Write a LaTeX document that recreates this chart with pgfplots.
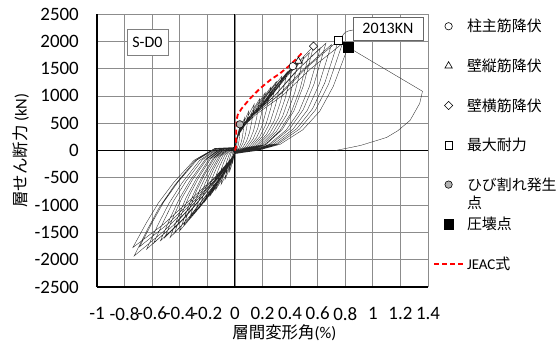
\documentclass[border=0pt]{standalone}
\usepackage{pgfplots}
\pgfplotsset{compat=1.18}
\usepackage{fontspec}
\setmainfont{Carlito}
\newfontfamily\cjk{Noto Sans CJK JP}
\newcommand{\lgs}{\rule[-3bp]{0pt}{14bp}}
\begin{document}
\begin{tikzpicture}
\useasboundingbox (-97bp,-60bp) rectangle (463bp,287bp);
\begin{axis}[
  at={(0,0)}, anchor=south west,
  scale only axis, width=331bp, height=273bp,
  xmin=-1, xmax=1.4, ymin=-2500, ymax=2500,
  axis lines*=left, axis line style={-, black, line width=1.3bp},
  xtick={-1,-0.8,-0.6,-0.4,-0.2,0,0.2,0.4,0.6,0.8,1,1.2,1.4},
  xticklabels={-1,-0.8,-0.6,-0.4,-0.2,0,0.2,0.4,0.6,0.8,1,1.2,1.4},
  ytick={-2500,-2000,-1500,-1000,-500,0,500,1000,1500,2000,2500},
  yticklabels={-2500,-2000,-1500,-1000,-500,0,500,1000,1500,2000,2500},
  major tick length=0pt,
  grid=major, major grid style={black!45, line width=0.8bp},
  extra x ticks={0}, extra x tick labels={}, extra x tick style={major grid style={black, line width=0.9bp}},
  extra y ticks={0}, extra y tick labels={}, extra y tick style={major grid style={black, line width=0.9bp}},
  xticklabel style={font=\fontsize{19}{21}\selectfont, inner sep=0pt, yshift=-20bp},
  yticklabel style={font=\fontsize{19}{21}\selectfont, inner sep=0pt, xshift=-18bp},
  xlabel={{\cjk 層間変形角}(\%)},
  ylabel={{\cjk 層せん断力} (kN)},
  label style={font=\fontsize{16.5}{18}\selectfont},
  xlabel style={at={(axis description cs:0.566,-0.1685)}, anchor=center},
  ylabel style={at={(axis description cs:-0.2296,0.5)}, anchor=center},
  legend style={at={(1,1)}, anchor=north west, xshift=5bp, yshift=-5bp,
    draw=none, fill=none, inner sep=0pt, row sep=25.5bp, column sep=3bp,
    font=\fontsize{15}{16}\selectfont\cjk, nodes={inner sep=0pt}},
  legend cell align=left,
  legend image code/.code={\path (0bp,0bp) (29bp,0bp); \draw[mark repeat=2,mark phase=2,#1] plot coordinates {(0bp,0bp) (14.5bp,0bp) (29bp,0bp)};},
]
% hysteresis loops
\addplot[forget plot, black!85, line width=0.35bp] coordinates {
(0,0)
(0.004,0)(0.008,18)(0.012,60)(0.015,114)(0.017,186)(0.02,300)(0.014,228)(0.009,156)(0.004,102)(0.001,60)(0,8)(-0.004,5)(-0.008,-25)(-0.012,-83)(-0.015,-135)(-0.017,-188)(-0.02,-250)(-0.014,-190)(-0.009,-130)(-0.004,-70)(-0.001,-25)(0,-9)
(0.008,0)(0.016,29)(0.024,96)(0.03,182)(0.035,298)(0.04,480)(0.028,365)(0.018,250)(0.008,163)(0.002,96)(0,12)(-0.008,8)(-0.016,-40)(-0.024,-132)(-0.03,-216)(-0.035,-300)(-0.04,-400)(-0.028,-304)(-0.018,-208)(-0.008,-112)(-0.002,-40)(0,-14)
(0.014,0)(0.028,36)(0.042,120)(0.053,228)(0.061,372)(0.07,600)(0.049,456)(0.032,312)(0.014,204)(0.004,120)(0,16)(-0.014,10)(-0.028,-52)(-0.042,-172)(-0.053,-281)(-0.061,-390)(-0.07,-520)(-0.049,-395)(-0.032,-270)(-0.014,-146)(-0.004,-52)(0,-18)
(0.02,0)(0.04,43)(0.06,144)(0.075,274)(0.087,446)(0.1,720)(0.07,547)(0.045,374)(0.02,245)(0.005,144)(0,19)(-0.02,12)(-0.04,-62)(-0.06,-205)(-0.075,-335)(-0.087,-465)(-0.1,-620)(-0.07,-471)(-0.045,-322)(-0.02,-174)(-0.005,-62)(0,-22)
(0.028,0)(0.056,51)(0.084,170)(0.105,323)(0.122,527)(0.14,850)(0.098,646)(0.063,442)(0.028,289)(0.007,170)(0,22)(-0.028,14)(-0.056,-72)(-0.084,-238)(-0.105,-389)(-0.122,-540)(-0.14,-720)(-0.098,-547)(-0.063,-374)(-0.028,-202)(-0.007,-72)(0,-26)
(0.036,0)(0.072,57)(0.108,190)(0.135,361)(0.157,589)(0.18,950)(0.126,722)(0.081,494)(0.036,323)(0.009,190)(0,25)(-0.036,17)(-0.072,-83)(-0.108,-274)(-0.135,-448)(-0.157,-623)(-0.18,-830)(-0.126,-631)(-0.081,-432)(-0.036,-232)(-0.009,-83)(0,-29)
(0.044,0)(0.088,64)(0.132,212)(0.165,403)(0.191,657)(0.22,1060)(0.154,806)(0.099,551)(0.044,360)(0.011,212)(0,28)(-0.044,19)(-0.088,-94)(-0.132,-310)(-0.165,-508)(-0.191,-705)(-0.22,-940)(-0.154,-714)(-0.099,-489)(-0.044,-263)(-0.011,-94)(0,-32)
(0.052,0)(0.104,70)(0.156,232)(0.195,441)(0.226,719)(0.26,1160)(0.182,882)(0.117,603)(0.052,394)(0.013,232)(0,32)(-0.052,21)(-0.104,-106)(-0.156,-350)(-0.195,-572)(-0.226,-795)(-0.26,-1060)(-0.182,-806)(-0.117,-551)(-0.052,-297)(-0.013,-106)(0,-35)
(0.06,0)(0.12,76)(0.18,252)(0.225,479)(0.261,781)(0.30,1260)(0.21,958)(0.135,655)(0.06,428)(0.015,252)(0,34)(-0.058,23)(-0.116,-113)(-0.174,-374)(-0.218,-612)(-0.252,-851)(-0.29,-1134)(-0.203,-862)(-0.131,-590)(-0.058,-318)(-0.015,-113)(0,-38)
(0.068,0)(0.136,82)(0.204,272)(0.255,517)(0.296,843)(0.34,1360)(0.238,1034)(0.153,707)(0.068,462)(0.017,272)(0,37)(-0.066,25)(-0.132,-124)(-0.198,-409)(-0.248,-670)(-0.287,-930)(-0.33,-1240)(-0.231,-942)(-0.149,-645)(-0.066,-347)(-0.017,-124)(0,-41)
(0.076,0)(0.152,86)(0.228,288)(0.285,547)(0.331,893)(0.38,1440)(0.266,1094)(0.171,749)(0.076,490)(0.019,288)(0,41)(-0.074,27)(-0.148,-136)(-0.222,-449)(-0.278,-734)(-0.322,-1020)(-0.37,-1360)(-0.259,-1034)(-0.167,-707)(-0.074,-381)(-0.019,-136)(0,-43)
(0.084,0)(0.168,93)(0.252,309)(0.315,587)(0.365,957)(0.42,1544)(0.294,1173)(0.189,803)(0.084,525)(0.021,309)(0,44)(-0.08,29)(-0.16,-147)(-0.24,-485)(-0.30,-794)(-0.348,-1103)(-0.40,-1470)(-0.28,-1117)(-0.18,-764)(-0.08,-412)(-0.02,-147)(0,-46)
(0.092,0)(0.184,98)(0.276,327)(0.345,622)(0.40,1014)(0.46,1636)(0.322,1243)(0.207,851)(0.092,556)(0.023,327)(0,46)(-0.088,30)(-0.176,-152)(-0.264,-502)(-0.33,-821)(-0.383,-1140)(-0.44,-1520)(-0.308,-1155)(-0.198,-790)(-0.088,-426)(-0.022,-152)(0,-49)
(0.10,0)(0.20,103)(0.30,344)(0.375,654)(0.435,1066)(0.50,1720)(0.35,1307)(0.225,894)(0.10,585)(0.025,344)(0,48)(-0.094,32)(-0.188,-159)(-0.282,-526)(-0.353,-860)(-0.409,-1195)(-0.47,-1593)(-0.329,-1211)(-0.212,-828)(-0.094,-446)(-0.024,-159)(0,-52)
(0.108,0)(0.216,107)(0.324,358)(0.405,680)(0.47,1110)(0.54,1790)(0.378,1360)(0.243,931)(0.108,609)(0.027,358)(0,48)(-0.102,32)(-0.204,-160)(-0.306,-528)(-0.383,-864)(-0.444,-1200)(-0.51,-1600)(-0.357,-1216)(-0.23,-832)(-0.102,-448)(-0.026,-160)(0,-54)
(0.114,0)(0.228,115)(0.342,382)(0.428,727)(0.496,1185)(0.57,1912)(0.399,1453)(0.257,994)(0.114,650)(0.029,382)(0,50)(-0.108,33)(-0.216,-165)(-0.324,-546)(-0.405,-893)(-0.47,-1241)(-0.54,-1654)(-0.378,-1257)(-0.243,-860)(-0.108,-463)(-0.027,-165)(0,-57)
(0.124,0)(0.248,113)(0.372,376)(0.465,714)(0.539,1166)(0.62,1880)(0.434,1429)(0.279,978)(0.124,639)(0.031,376)(0,51)(-0.118,34)(-0.236,-170)(-0.354,-561)(-0.443,-918)(-0.513,-1275)(-0.59,-1700)(-0.413,-1292)(-0.266,-884)(-0.118,-476)(-0.03,-170)(0,-56)
(0.132,0)(0.264,118)(0.396,393)(0.495,747)(0.574,1220)(0.66,1967)(0.462,1495)(0.297,1023)(0.132,669)(0.033,393)(0,54)(-0.128,36)(-0.256,-181)(-0.384,-596)(-0.48,-976)(-0.557,-1355)(-0.64,-1807)(-0.448,-1373)(-0.288,-940)(-0.128,-506)(-0.032,-181)(0,-59)
(0.14,0)(0.28,116)(0.42,388)(0.525,737)(0.609,1203)(0.70,1940)(0.49,1474)(0.315,1009)(0.14,660)(0.035,388)(0,53)(-0.138,35)(-0.276,-176)(-0.414,-581)(-0.518,-950)(-0.6,-1320)(-0.69,-1760)(-0.483,-1338)(-0.311,-915)(-0.138,-493)(-0.035,-176)(0,-60)
(0.15,0)(0.30,121)(0.45,403)(0.563,765)(0.653,1248)(0.75,2013)(0.525,1530)(0.338,1047)(0.15,684)(0.038,403)(0,58)(-0.146,39)(-0.292,-193)(-0.438,-637)(-0.548,-1042)(-0.635,-1448)(-0.73,-1930)(-0.511,-1467)(-0.329,-1004)(-0.146,-540)(-0.037,-193)(0,-59)
(0.156,0)(0.312,118)(0.468,392)(0.585,745)(0.679,1215)(0.78,1960)(0.546,1490)(0.351,1019)(0.156,666)(0.039,392)(0,53)(-0.148,36)(-0.296,-178)(-0.444,-586)(-0.555,-960)(-0.644,-1333)(-0.74,-1777)(-0.518,-1351)(-0.333,-924)(-0.148,-498)(-0.037,-178)(0,-57)
(0.164,0)(0.328,114)(0.492,379)(0.615,719)(0.713,1174)(0.82,1893)
(1.36,1085)(1.34,864)(1.27,551)(1.18,360)(1.10,239)(0.91,92)(0.73,0)
};
% markers
\addplot[only marks, mark=*, mark size=3.7bp, mark options={fill=white, draw=black, line width=0.6bp}] coordinates {(0.42,1544)};
\addlegendentry{\lgs 柱主筋降伏}
\addplot[only marks, mark=triangle*, mark size=4.2bp, mark options={fill=white, draw=black, line width=0.6bp}] coordinates {(0.46,1636)};
\addlegendentry{\lgs 壁縦筋降伏}
\addplot[only marks, mark=square*, mark size=2.9bp, mark options={rotate=45, fill=white, draw=black, line width=0.6bp}] coordinates {(0.57,1912)};
\addlegendentry{\lgs 壁横筋降伏}
\addplot[only marks, mark=square*, mark size=3.8bp, mark options={fill=white, draw=black, line width=0.6bp}] coordinates {(0.75,2013)};
\addlegendentry{\lgs 最大耐力}
\addplot[only marks, mark=*, mark size=3.7bp, mark options={fill=black!30, draw=black, line width=0.6bp}] coordinates {(0.036,480)};
\addlegendentry{\lgs\rlap{\smash{\raisebox{-18bp}{点}}}ひび割れ発生}
\addplot[only marks, mark=square*, mark size=4.8bp, mark options={fill=black, draw=black}] coordinates {(0.82,1893)};
\addlegendentry{\lgs 圧壊点}
% JEAC
\addplot[red, line width=1.8bp, dash pattern=on 5bp off 3bp] coordinates {
(0,0)(0.007,61)(0.012,551)(0.02,650)(0.048,766)(0.109,950)(0.181,1134)(0.254,1287)(0.326,1410)(0.399,1562)(0.483,1777)
};
\addlegendentry{\lgs{\normalfont JEAC}式}
% annotations
\node[draw=black!50, fill=white, minimum width=41bp, minimum height=26bp, inner sep=0pt, font=\fontsize{16}{18}\selectfont] at (axis cs:-0.634,1985) {S-D0};
\draw[black!70, line width=0.5bp] (axis cs:0.77,2060) .. controls (axis cs:0.8,2180) .. (axis cs:0.855,2206);
\node[draw=black!60, fill=white, minimum width=70bp, minimum height=23bp, inner sep=0pt, font=\fontsize{16}{18}\selectfont] at (axis cs:1.109,2233) {2013KN};
\end{axis}
\end{tikzpicture}
\end{document}
